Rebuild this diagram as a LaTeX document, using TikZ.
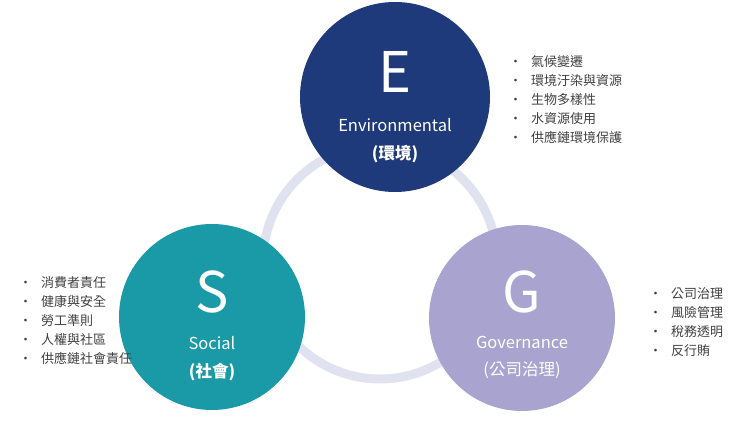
\documentclass[tikz,border=0pt]{standalone}
\usepackage{fontspec}
\setmainfont{Noto Sans CJK TC}
\begin{document}
\begin{tikzpicture}[x=1pt,y=-1pt,
 big/.style={circle,minimum size=#1,inner sep=0pt},
 letter/.style={text=white,font=\fontsize{56}{56}\selectfont},
 lab/.style={text=white,font=\fontsize{16.5}{18}\selectfont},
 blist/.style={anchor=north west,text=black!75,font=\fontsize{13}{19}\selectfont,align=left,inner sep=0pt}]
\useasboundingbox (0,0) rectangle (740,446);
\node[draw={rgb,255:red,224;green,226;blue,240},line width=9pt,circle,minimum size=234pt,inner sep=0pt] (ring) at (380,262) {};
\node[big=190pt,fill={rgb,255:red,31;green,58;blue,122}] (E) at (395,97) {};
\node[big=186pt,fill={rgb,255:red,26;green,154;blue,166}] (S) at (212,317) {};
\node[big=186pt,fill={rgb,255:red,168;green,163;blue,207}] (G) at (522,318) {};
\node[letter] (El) at (395,72) {E};
\node[lab] (Et) at (395,125) {Environmental};
\node[lab,font=\bfseries\fontsize{16.5}{18}\selectfont] (Ec) at (395,154) {(環境)};
\node[letter] (Sl) at (212,292) {S};
\node[lab] (St) at (212,343) {Social};
\node[lab,font=\bfseries\fontsize{16.5}{18}\selectfont] (Sc) at (212,372) {(社會)};
\node[letter] (Gl) at (522,292) {G};
\node[lab] (Gt) at (522,342) {Governance};
\node[lab] (Gc) at (522,370) {(公司治理)};
\node[blist] (Eb) at (509,55) {•\hspace{9pt}氣候變遷\\•\hspace{9pt}環境汙染與資源\\•\hspace{9pt}生物多樣性\\•\hspace{9pt}水資源使用\\•\hspace{9pt}供應鏈環境保護};
\node[blist] (Sb) at (19,276) {•\hspace{9pt}消費者責任\\•\hspace{9pt}健康與安全\\•\hspace{9pt}勞工準則\\•\hspace{9pt}人權與社區\\•\hspace{9pt}供應鏈社會責任};
\node[blist] (Gb) at (649,287) {•\hspace{9pt}公司治理\\•\hspace{9pt}風險管理\\•\hspace{9pt}稅務透明\\•\hspace{9pt}反行賄};
\end{tikzpicture}
\end{document}
